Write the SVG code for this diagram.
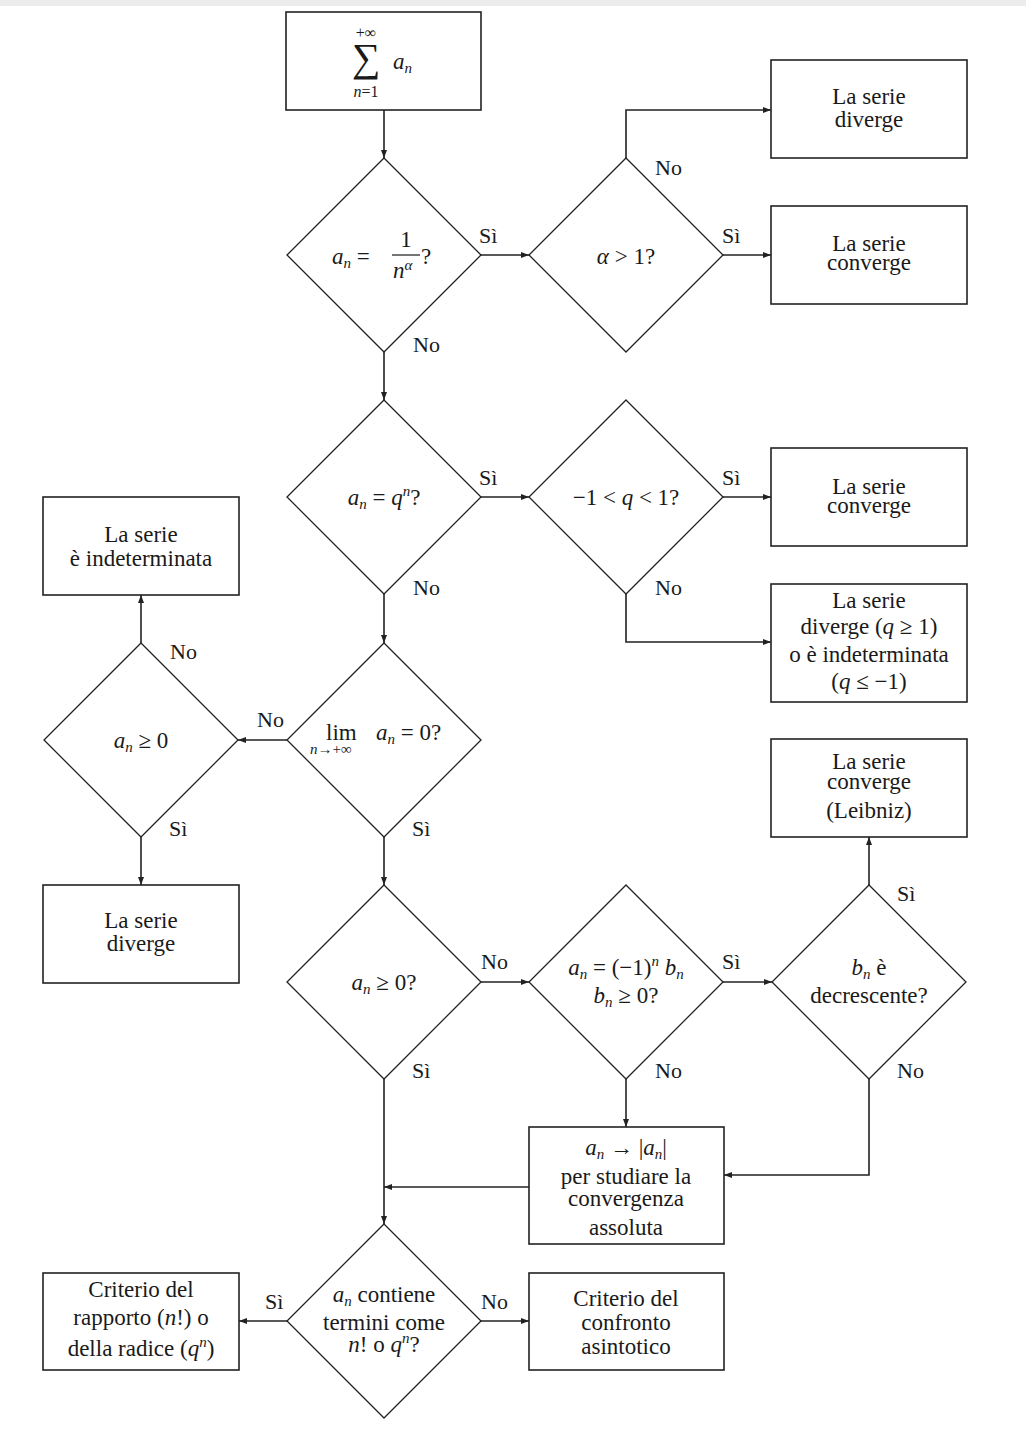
<svg xmlns="http://www.w3.org/2000/svg" width="1026" height="1440" viewBox="0 0 1026 1440">
  <style>
    .box { fill: #fff; stroke: #222; stroke-width: 1.6; }
    .dia { fill: #fff; stroke: #222; stroke-width: 1.3; }
    .ln { fill: none; stroke: #222; stroke-width: 1.6; }
    text { font-family: "Liberation Serif", "DejaVu Serif", serif; font-size: 23px; fill: #1a1a1a; }
    .c { text-anchor: middle; }
    .i { font-style: italic; }
    .s { font-size: 15px; }
    .lab { font-size: 22px; }
  </style>
  <defs>
    <marker id="ah" markerWidth="8" markerHeight="6" refX="8" refY="3" orient="auto" markerUnits="userSpaceOnUse">
      <path d="M0,0 L8,3 L0,6 Z" fill="#222"/>
    </marker>
  </defs>
  <rect width="1026" height="1440" fill="#fff"/>
  <rect width="1026" height="6" fill="#ececec"/>

  <!-- connectors -->
  <g id="connectors">
    <line class="ln" x1="384" y1="110" x2="384" y2="158" marker-end="url(#ah)"/>
    <line class="ln" x1="481" y1="255" x2="529" y2="255" marker-end="url(#ah)"/>
    <polyline class="ln" points="626,158 626,110 771,110" marker-end="url(#ah)"/>
    <line class="ln" x1="723" y1="255" x2="771" y2="255" marker-end="url(#ah)"/>
    <line class="ln" x1="384" y1="352" x2="384" y2="400" marker-end="url(#ah)"/>
    <line class="ln" x1="481" y1="497" x2="529" y2="497" marker-end="url(#ah)"/>
    <line class="ln" x1="723" y1="497" x2="771" y2="497" marker-end="url(#ah)"/>
    <polyline class="ln" points="626,594 626,642 771,642" marker-end="url(#ah)"/>
    <line class="ln" x1="384" y1="594" x2="384" y2="643" marker-end="url(#ah)"/>
    <line class="ln" x1="287" y1="740" x2="238" y2="740" marker-end="url(#ah)"/>
    <line class="ln" x1="141" y1="643" x2="141" y2="595" marker-end="url(#ah)"/>
    <line class="ln" x1="141" y1="837" x2="141" y2="885" marker-end="url(#ah)"/>
    <line class="ln" x1="384" y1="837" x2="384" y2="885" marker-end="url(#ah)"/>
    <line class="ln" x1="481" y1="982" x2="529" y2="982" marker-end="url(#ah)"/>
    <line class="ln" x1="723" y1="982" x2="772" y2="982" marker-end="url(#ah)"/>
    <line class="ln" x1="869" y1="885" x2="869" y2="837" marker-end="url(#ah)"/>
    <line class="ln" x1="626" y1="1079" x2="626" y2="1127" marker-end="url(#ah)"/>
    <polyline class="ln" points="869,1079 869,1175 724,1175" marker-end="url(#ah)"/>
    <line class="ln" x1="529" y1="1187" x2="384" y2="1187" marker-end="url(#ah)"/>
    <line class="ln" x1="384" y1="1079" x2="384" y2="1224" marker-end="url(#ah)"/>
    <line class="ln" x1="287" y1="1321" x2="239" y2="1321" marker-end="url(#ah)"/>
    <line class="ln" x1="481" y1="1321" x2="529" y2="1321" marker-end="url(#ah)"/>

    <!-- branch labels -->
    <text class="lab" x="479" y="243">Sì</text>
    <text class="lab" x="413" y="352">No</text>
    <text class="lab" x="655" y="175">No</text>
    <text class="lab" x="722" y="243">Sì</text>
    <text class="lab" x="479" y="485">Sì</text>
    <text class="lab" x="413" y="595">No</text>
    <text class="lab" x="722" y="485">Sì</text>
    <text class="lab" x="655" y="595">No</text>
    <text class="lab" x="257" y="727">No</text>
    <text class="lab" x="170" y="659">No</text>
    <text class="lab" x="169" y="836">Sì</text>
    <text class="lab" x="412" y="836">Sì</text>
    <text class="lab" x="481" y="969">No</text>
    <text class="lab" x="412" y="1078">Sì</text>
    <text class="lab" x="722" y="969">Sì</text>
    <text class="lab" x="655" y="1078">No</text>
    <text class="lab" x="897" y="901">Sì</text>
    <text class="lab" x="897" y="1078">No</text>
    <text class="lab" x="265" y="1309">Sì</text>
    <text class="lab" x="481" y="1309">No</text>
  </g>

  <!-- start: sum of a_n -->
  <g id="start">
    <rect class="box" x="286" y="12" width="195" height="98"/>
    <text class="c" x="366" y="38" style="font-size:16px">+∞</text>
    <text class="c" x="366" y="71" style="font-size:40px">∑</text>
    <text class="c i" x="366" y="97" style="font-size:16px">n<tspan font-style="normal">=1</tspan></text>
    <text class="i" x="393" y="69">a<tspan class="s" dy="4">n</tspan></text>
  </g>

  <g id="q-power">
    <polygon class="dia" points="384,158 481,255 384,352 287,255"/>
    <text class="i" x="332" y="264">a<tspan class="s" dy="4">n</tspan><tspan font-style="normal" dy="-4"> =</tspan></text>
    <text class="c" x="406" y="247">1</text>
    <line x1="392" y1="255" x2="420" y2="255" stroke="#1a1a1a" stroke-width="1.2"/>
    <text class="i" x="393" y="278">n<tspan class="s" dy="-8">α</tspan></text>
    <text x="421" y="264">?</text>
  </g>

  <g id="alpha">
    <polygon class="dia" points="626,158 723,255 626,352 529,255"/>
    <text class="c" x="626" y="264"><tspan font-style="italic">α</tspan> &gt; 1?</text>
  </g>

  <g id="diverge-1">
    <rect class="box" x="771" y="60" width="196" height="98"/>
    <text class="c" x="869" y="104">La serie</text>
    <text class="c" x="869" y="127">diverge</text>
  </g>

  <g id="converge-1">
    <rect class="box" x="771" y="206" width="196" height="98"/>
    <text class="c" x="869" y="251">La serie</text>
    <text class="c" x="869" y="270">converge</text>
  </g>

  <g id="geometric">
    <polygon class="dia" points="384,400 481,497 384,594 287,497"/>
    <text class="c" x="384" y="505"><tspan font-style="italic">a</tspan><tspan class="s i" dy="4">n</tspan><tspan dy="-4"> = </tspan><tspan font-style="italic">q</tspan><tspan class="s i" dy="-9">n</tspan><tspan dy="9">?</tspan></text>
  </g>

  <g id="ratio-range">
    <polygon class="dia" points="626,400 723,497 626,594 529,497"/>
    <text class="c" x="626" y="505">−1 &lt; <tspan font-style="italic">q</tspan> &lt; 1?</text>
  </g>

  <g id="converge-2">
    <rect class="box" x="771" y="448" width="196" height="98"/>
    <text class="c" x="869" y="494">La serie</text>
    <text class="c" x="869" y="513">converge</text>
  </g>

  <g id="diverge-2">
    <rect class="box" x="771" y="584" width="196" height="118"/>
    <text class="c" x="869" y="608">La serie</text>
    <text class="c" x="869" y="634">diverge (<tspan font-style="italic">q</tspan> ≥ 1)</text>
    <text class="c" x="869" y="662">o è indeterminata</text>
    <text class="c" x="869" y="689">(<tspan font-style="italic">q</tspan> ≤ −1)</text>
  </g>

  <g id="limit">
    <polygon class="dia" points="384,643 481,740 384,837 287,740"/>
    <text x="326" y="740">lim</text>
    <text class="s i" x="310" y="754">n<tspan font-style="normal">→+∞</tspan></text>
    <text x="376" y="740"><tspan font-style="italic">a</tspan><tspan class="s i" dy="4">n</tspan><tspan dy="-4"> = 0?</tspan></text>
  </g>

  <g id="sign-check-left">
    <polygon class="dia" points="141,643 238,740 141,837 44,740"/>
    <text class="c" x="141" y="748"><tspan font-style="italic">a</tspan><tspan class="s i" dy="4">n</tspan><tspan dy="-4"> ≥ 0</tspan></text>
  </g>

  <g id="indeterminate">
    <rect class="box" x="43" y="497" width="196" height="98"/>
    <text class="c" x="141" y="542">La serie</text>
    <text class="c" x="141" y="566">è indeterminata</text>
  </g>

  <g id="diverge-3">
    <rect class="box" x="43" y="885" width="196" height="98"/>
    <text class="c" x="141" y="928">La serie</text>
    <text class="c" x="141" y="951">diverge</text>
  </g>

  <g id="positive">
    <polygon class="dia" points="384,885 481,982 384,1079 287,982"/>
    <text class="c" x="384" y="990"><tspan font-style="italic">a</tspan><tspan class="s i" dy="4">n</tspan><tspan dy="-4"> ≥ 0?</tspan></text>
  </g>

  <g id="alternating">
    <polygon class="dia" points="626,885 723,982 626,1079 529,982"/>
    <text class="c" x="626" y="975"><tspan font-style="italic">a</tspan><tspan class="s i" dy="4">n</tspan><tspan dy="-4"> = (−1)</tspan><tspan class="s i" dy="-9">n</tspan><tspan font-style="italic" dy="9"> b</tspan><tspan class="s i" dy="4">n</tspan></text>
    <text class="c" x="626" y="1003"><tspan font-style="italic">b</tspan><tspan class="s i" dy="4">n</tspan><tspan dy="-4"> ≥ 0?</tspan></text>
  </g>

  <g id="decreasing">
    <polygon class="dia" points="869,885 966,982 869,1079 772,982"/>
    <text class="c" x="869" y="975"><tspan font-style="italic">b</tspan><tspan class="s i" dy="4">n</tspan><tspan dy="-4"> è</tspan></text>
    <text class="c" x="869" y="1003">decrescente?</text>
  </g>

  <g id="leibniz">
    <rect class="box" x="771" y="739" width="196" height="98"/>
    <text class="c" x="869" y="769">La serie</text>
    <text class="c" x="869" y="789">converge</text>
    <text class="c" x="869" y="818">(Leibniz)</text>
  </g>

  <g id="absolute">
    <rect class="box" x="529" y="1127" width="195" height="117"/>
    <text class="c" x="626" y="1155"><tspan font-style="italic">a</tspan><tspan class="s i" dy="4">n</tspan><tspan dy="-4"> → |</tspan><tspan font-style="italic">a</tspan><tspan class="s i" dy="4">n</tspan><tspan dy="-4">|</tspan></text>
    <text class="c" x="626" y="1184">per studiare la</text>
    <text class="c" x="626" y="1206">convergenza</text>
    <text class="c" x="626" y="1235">assoluta</text>
  </g>

  <g id="factorial">
    <polygon class="dia" points="384,1224 481,1321 384,1418 287,1321"/>
    <text class="c" x="384" y="1302"><tspan font-style="italic">a</tspan><tspan class="s i" dy="4">n</tspan><tspan dy="-4"> contiene</tspan></text>
    <text class="c" x="384" y="1330">termini come</text>
    <text class="c" x="384" y="1352"><tspan font-style="italic">n</tspan>! o <tspan font-style="italic">q</tspan><tspan class="s i" dy="-9">n</tspan><tspan dy="9">?</tspan></text>
  </g>

  <g id="ratio-root">
    <rect class="box" x="43" y="1273" width="196" height="97"/>
    <text class="c" x="141" y="1297">Criterio del</text>
    <text class="c" x="141" y="1325">rapporto (<tspan font-style="italic">n</tspan>!) o</text>
    <text class="c" x="141" y="1356">della radice (<tspan font-style="italic">q</tspan><tspan class="s i" dy="-9">n</tspan><tspan dy="9">)</tspan></text>
  </g>

  <g id="comparison">
    <rect class="box" x="529" y="1273" width="195" height="97"/>
    <text class="c" x="626" y="1306">Criterio del</text>
    <text class="c" x="626" y="1330">confronto</text>
    <text class="c" x="626" y="1354">asintotico</text>
  </g>
</svg>
